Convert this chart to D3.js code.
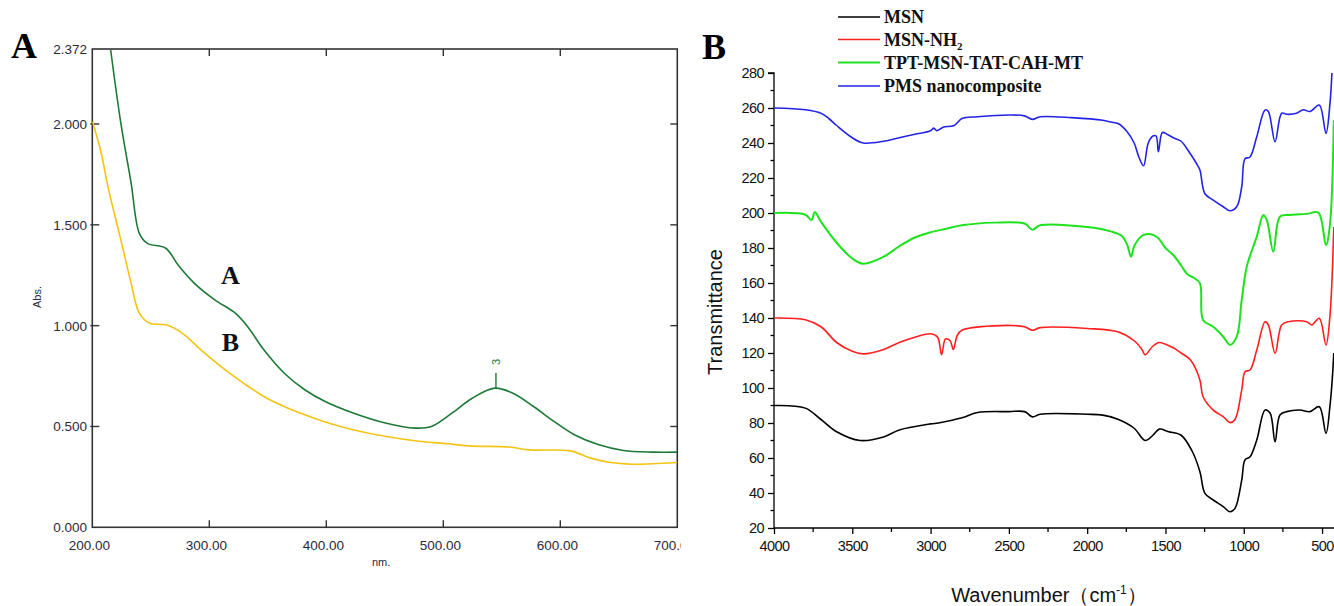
<!DOCTYPE html>
<html>
<head>
<meta charset="utf-8">
<script src="https://cdn.jsdelivr.net/npm/d3@7"></script>
<style>
  html, body { margin: 0; padding: 0; background: #fff; }
  svg { display: block; }
</style>
</head>
<body>
<svg id="chart" width="1334" height="606"></svg>
<script>
// ---------------- Panel A data (UV-Vis) ----------------
const uvNmA  = [215.7, 224.4, 233.2, 240.2, 247.1, 262.8, 273.3, 287.3, 304.7, 322.2, 332.7, 346.6, 364.1, 381.6, 399, 423.5, 451.4, 475.8, 489.8, 507.3, 524.7, 543.9, 559.6, 577.1, 594.6, 612, 633, 653.9, 678.4, 700];
const uvAbsA = [2.367, 2.004, 1.706, 1.458, 1.408, 1.384, 1.301, 1.21, 1.128, 1.062, 0.996, 0.88, 0.764, 0.682, 0.624, 0.566, 0.516, 0.492, 0.5, 0.566, 0.64, 0.69, 0.665, 0.599, 0.525, 0.459, 0.409, 0.381, 0.373, 0.373];
const uvNmB  = [200, 207, 214, 224.4, 233.2, 240.2, 248.9, 262.8, 276.8, 294.3, 311.7, 329.2, 346.6, 364.1, 381.6, 402.5, 423.5, 451.4, 475.8, 503.8, 521.2, 556.1, 573.6, 608.5, 626, 643.4, 660.9, 678.4, 700];
const uvAbsB = [2.012, 1.871, 1.673, 1.425, 1.21, 1.062, 1.012, 1.004, 0.963, 0.872, 0.789, 0.715, 0.649, 0.599, 0.558, 0.516, 0.483, 0.45, 0.429, 0.414, 0.404, 0.398, 0.384, 0.379, 0.343, 0.321, 0.313, 0.315, 0.321];
const uvXTicks = [200, 300, 400, 500, 600, 700];
const uvXTickLabels = ["200.00", "300.00", "400.00", "500.00", "600.00", "700.00"];
const uvYTicks = [0, 0.5, 1.0, 1.5, 2.0, 2.372];
const uvYTickLabels = ["0.000", "0.500", "1.000", "1.500", "2.000", "2.372"];
const uvPeakNm = 545, uvPeakAbs = 0.69, uvPeakLabel = "3";

// ---------------- Panel B data (FTIR) ----------------
const irLegend = ["MSN", "MSN-NH2", "TPT-MSN-TAT-CAH-MT", "PMS nanocomposite"];
const irWaveMSN = [4000, 3800, 3700, 3600, 3450, 3300, 3200, 3000, 2950, 2800, 2700, 2500, 2400, 2350, 2300, 2000, 1900, 1800, 1700, 1630, 1580, 1540, 1480, 1400, 1330, 1280, 1248, 1195, 1131, 1088, 1056, 1013, 992, 960, 917, 864, 832, 800, 769, 726, 641, 577, 518, 475, 450, 425];
const irTMSN    = [90, 88.5, 82, 75, 70, 72, 76, 79.5, 80, 83, 86, 86.5, 86.5, 83.5, 85, 85, 84.5, 82, 77, 70, 73, 76.5, 75, 73, 64, 52.2, 39.8, 36, 32.2, 29.3, 31.2, 47.4, 58.9, 60.7, 70.3, 87.4, 85.7, 69.3, 84.6, 86.5, 87.4, 86.5, 89.3, 74.1, 89.3, 120];
const irWaveNH2 = [4000, 3800, 3700, 3600, 3500, 3430, 3300, 3200, 3100, 3000, 2955, 2930, 2905, 2875, 2855, 2830, 2800, 2600, 2400, 2350, 2300, 2000, 1800, 1700, 1650, 1630, 1580, 1540, 1500, 1450, 1400, 1340, 1280, 1260, 1195, 1131, 1088, 1056, 1013, 992, 960, 917, 864, 843, 800, 758, 715, 598, 566, 518, 475, 450, 425];
const irTNH2    = [140, 139, 135, 126, 121, 119.5, 122, 126, 129, 131, 129, 119, 128, 127, 122, 130, 133, 135.5, 135, 133, 134.5, 134, 132, 127, 122, 119, 124, 126, 125, 123, 120, 116, 104.6, 95, 87.4, 83.6, 80.2, 82, 98.9, 109.3, 110.3, 121.7, 137.9, 136, 119.8, 136, 137.9, 137.9, 136, 139.8, 124.6, 140.8, 192];
const irWaveTPT = [4000, 3800, 3760, 3740, 3700, 3600, 3500, 3430, 3300, 3200, 3100, 3000, 2900, 2800, 2600, 2400, 2350, 2300, 2000, 1850, 1780, 1745, 1720, 1700, 1650, 1600, 1550, 1500, 1450, 1400, 1360, 1320, 1280, 1260, 1195, 1131, 1088, 1045, 1013, 981, 917, 875, 853, 811, 769, 705, 598, 524, 475, 450, 425];
const irTTPT    = [200, 199, 196, 200.5, 195, 183, 174, 171, 175, 181, 186, 189, 191, 193, 194.5, 194, 190.5, 193, 192, 189.5, 187, 182, 175, 181, 187, 188, 186, 180, 176, 170, 165, 163, 159.8, 138.9, 135, 129.3, 124.6, 129.3, 150.3, 169.3, 186.5, 198.9, 196, 177.9, 197.9, 198.9, 199.5, 200.2, 181.7, 193, 253];
const irWavePMS = [4000, 3800, 3700, 3650, 3600, 3500, 3430, 3300, 3200, 3100, 3000, 2980, 2960, 2920, 2850, 2800, 2700, 2500, 2400, 2350, 2300, 2100, 1900, 1850, 1800, 1750, 1700, 1670, 1640, 1610, 1580, 1560, 1545, 1520, 1490, 1450, 1400, 1350, 1300, 1280, 1248, 1195, 1131, 1088, 1045, 1013, 992, 960, 917, 864, 843, 800, 758, 726, 662, 620, 577, 518, 475, 450, 437];
const irTPMS    = [260, 259, 257, 254, 250, 243, 240, 241, 243, 245, 247, 248.5, 247, 249, 250, 254, 255, 256, 255.5, 253.5, 255, 254.5, 253, 252, 251, 247, 240, 232, 227, 240, 244, 244, 235, 246, 245, 243, 241, 235, 228, 224.6, 211, 207.4, 203.6, 201.3, 203.6, 215, 231, 232, 243.6, 258.9, 258, 240.7, 257, 256.4, 257, 259, 258, 261.7, 245.5, 262, 280];
const irXTicks = [4000, 3500, 3000, 2500, 2000, 1500, 1000, 500];
const irXMinor = [3750, 3250, 2750, 2250, 1750, 1250, 750];
const irYTicks = [20, 40, 60, 80, 100, 120, 140, 160, 180, 200, 220, 240, 260, 280];
const irYMinor = [30, 50, 70, 90, 110, 130, 150, 170, 190, 210, 230, 250, 270];

// ---------------- Drawing ----------------
const svg = d3.select("#chart");
const sans = "'Liberation Sans', Arial, sans-serif";
const serif = "'Liberation Serif', 'Times New Roman', serif";

// ===== Panel A =====
const ax = d3.scaleLinear().domain([200, 700]).range([92.3, 677.3]);
const ay = d3.scaleLinear().domain([0, 2.372]).range([527.3, 49]);
const gA = svg.append("g");

svg.append("defs").append("clipPath").attr("id", "clipA")
  .append("rect").attr("x", ax(200)).attr("y", ay(2.372))
  .attr("width", ax(700) - ax(200)).attr("height", ay(0) - ay(2.372));
svg.select("defs").append("clipPath").attr("id", "clipLabels")
  .append("rect").attr("x", 0).attr("y", 0).attr("width", 681).attr("height", 606);

// frame
gA.append("rect").attr("x", ax(200)).attr("y", ay(2.372))
  .attr("width", ax(700) - ax(200)).attr("height", ay(0) - ay(2.372))
  .attr("fill", "none").attr("stroke", "#333").attr("stroke-width", 1.6);

// ticks (inward)
const xInner = uvXTicks.filter(d => d > 200 && d < 700);
gA.selectAll(".txb").data(xInner).join("line")
  .attr("x1", d => ax(d)).attr("x2", d => ax(d))
  .attr("y1", ay(0)).attr("y2", ay(0) - 7).attr("stroke", "#333").attr("stroke-width", 1.4);
gA.selectAll(".txt").data(xInner).join("line")
  .attr("x1", d => ax(d)).attr("x2", d => ax(d))
  .attr("y1", ay(2.372)).attr("y2", ay(2.372) + 7).attr("stroke", "#333").attr("stroke-width", 1.4);
const yInner = uvYTicks.filter(d => d > 0 && d < 2.372);
gA.selectAll(".tyl").data(yInner).join("line")
  .attr("x1", ax(200) - 2).attr("x2", ax(200) + 7)
  .attr("y1", d => ay(d)).attr("y2", d => ay(d)).attr("stroke", "#333").attr("stroke-width", 1.4);
gA.selectAll(".tyr").data(yInner).join("line")
  .attr("x1", ax(700) - 7).attr("x2", ax(700))
  .attr("y1", d => ay(d)).attr("y2", d => ay(d)).attr("stroke", "#333").attr("stroke-width", 1.4);

// tick labels
gA.append("g").attr("clip-path", "url(#clipLabels)")
  .selectAll("text").data(uvXTicks).join("text")
  .attr("x", d => ax(d) - 3).attr("y", 550)
  .attr("text-anchor", "middle").attr("font-family", sans).attr("font-size", 13.5)
  .attr("fill", "#2a2a3a").text((d, i) => uvXTickLabels[i]);
gA.selectAll(".ylab").data(uvYTicks).join("text")
  .attr("x", 87).attr("y", d => ay(d) + 5)
  .attr("text-anchor", "end").attr("font-family", sans).attr("font-size", 13.5)
  .attr("fill", "#2a2a3a").text((d, i) => uvYTickLabels[i]);

gA.append("text").attr("x", 372).attr("y", 566).attr("font-family", sans)
  .attr("font-size", 11).attr("fill", "#2a2a3a").text("nm.");
gA.append("text").attr("transform", "translate(41,297) rotate(-90)")
  .attr("text-anchor", "middle").attr("font-family", sans).attr("font-size", 11)
  .attr("fill", "#2a2a3a").text("Abs.");

// curves
const lineA = d3.line().x(d => ax(d[0])).y(d => ay(d[1])).curve(d3.curveCatmullRom.alpha(0.5));
const plotA = gA.append("g").attr("clip-path", "url(#clipA)");
plotA.append("path").datum(uvNmB.map((d, i) => [d, uvAbsB[i]]))
  .attr("d", lineA).attr("fill", "none").attr("stroke", "#f4c414").attr("stroke-width", 1.6);
plotA.append("path").datum(uvNmA.map((d, i) => [d, uvAbsA[i]]))
  .attr("d", lineA).attr("fill", "none").attr("stroke", "#1d7a36").attr("stroke-width", 1.6);

// peak marker
gA.append("line").attr("x1", ax(uvPeakNm)).attr("x2", ax(uvPeakNm))
  .attr("y1", ay(uvPeakAbs + 0.075)).attr("y2", ay(uvPeakAbs))
  .attr("stroke", "#1d7a36").attr("stroke-width", 1.4);
gA.append("text")
  .attr("transform", `translate(${ax(uvPeakNm) + 4},${ay(uvPeakAbs + 0.13)}) rotate(-90)`)
  .attr("text-anchor", "middle").attr("font-family", sans).attr("font-size", 11)
  .attr("fill", "#1d7a36").text(uvPeakLabel);

// in-plot series labels
gA.append("text").attr("x", ax(318)).attr("y", ay(1.252) + 9)
  .attr("text-anchor", "middle").attr("font-family", serif).attr("font-weight", "bold")
  .attr("font-size", 26).attr("fill", "#111").text("A");
gA.append("text").attr("x", ax(318)).attr("y", ay(0.921) + 9)
  .attr("text-anchor", "middle").attr("font-family", serif).attr("font-weight", "bold")
  .attr("font-size", 26).attr("fill", "#111").text("B");

// panel letter
svg.append("text").attr("x", 11).attr("y", 58).attr("font-family", serif)
  .attr("font-weight", "bold").attr("font-size", 36).attr("fill", "#000").text("A");

// ===== Panel B =====
const bx = d3.scaleLinear().domain([4000, 425]).range([774, 1333.8]);
const by = d3.scaleLinear().domain([20, 280]).range([528, 73]);
const gB = svg.append("g");

// y axis
const yAxisB = d3.axisLeft(by).tickValues(irYTicks).tickSize(6).tickPadding(4);
const gy = gB.append("g").attr("transform", `translate(${bx(4000)},0)`).call(yAxisB);
gy.select(".domain").attr("stroke", "#000").attr("stroke-width", 1.3).attr("d", `M-6,${by(280)}H0V${by(20)}`);
gy.selectAll(".tick line").attr("stroke", "#000").attr("stroke-width", 1.3);
gy.selectAll(".tick text").attr("font-family", sans).attr("font-size", 14.5)
  .attr("letter-spacing", -0.6).attr("fill", "#111");
gB.append("g").selectAll("line").data(irYMinor).join("line")
  .attr("x1", bx(4000) - 3.5).attr("x2", bx(4000))
  .attr("y1", d => by(d)).attr("y2", d => by(d)).attr("stroke", "#000").attr("stroke-width", 1.3);

// x axis
const xAxisB = d3.axisBottom(bx).tickValues(irXTicks).tickSize(6).tickPadding(7).tickFormat(d3.format("d"));
const gx = gB.append("g").attr("transform", `translate(0,${by(20)})`).call(xAxisB);
gx.select(".domain").attr("stroke", "#000").attr("stroke-width", 1.3).attr("d", `M${bx(4000)},0H1334`);
gx.selectAll(".tick line").attr("stroke", "#000").attr("stroke-width", 1.3);
gx.selectAll(".tick text").attr("font-family", sans).attr("font-size", 14.5)
  .attr("letter-spacing", -0.6).attr("fill", "#111");
gB.append("g").selectAll("line").data(irXMinor).join("line")
  .attr("x1", d => bx(d)).attr("x2", d => bx(d))
  .attr("y1", by(20)).attr("y2", by(20) + 4).attr("stroke", "#000").attr("stroke-width", 1.3);

// axis titles
gB.append("text").attr("transform", `translate(722,312) rotate(-90)`)
  .attr("text-anchor", "middle").attr("font-family", sans).attr("font-size", 20)
  .attr("fill", "#111").text("Transmittance");
const xt = gB.append("text").attr("x", 1049).attr("y", 602).attr("text-anchor", "middle")
  .attr("font-family", sans).attr("font-size", 20).attr("fill", "#111");
xt.append("tspan").text("Wavenumber（cm");
xt.append("tspan").attr("dy", -8).attr("font-size", 12).text("-1");
xt.append("tspan").attr("dy", 8).text("）");

// curves
const irColors = ["#000000", "#ff1f1f", "#1ee21e", "#2323e8"];
const irSeries = [
  irWaveMSN.map((d, i) => [d, irTMSN[i]]),
  irWaveNH2.map((d, i) => [d, irTNH2[i]]),
  irWaveTPT.map((d, i) => [d, irTTPT[i]]),
  irWavePMS.map((d, i) => [d, irTPMS[i]])
];
const lineB = d3.line().x(d => bx(d[0])).y(d => by(d[1])).curve(d3.curveCatmullRom.alpha(0.5));
gB.selectAll(".ir").data(irSeries).join("path")
  .attr("d", lineB).attr("fill", "none")
  .attr("stroke", (d, i) => irColors[i]).attr("stroke-width", (d, i) => i === 2 ? 2 : 1.6)
  .attr("stroke-linejoin", "round");

// legend
const legY = [17, 39.5, 62.5, 86];
const leg = gB.append("g");
irLegend.forEach((name, i) => {
  leg.append("line").attr("x1", 838).attr("x2", 880).attr("y1", legY[i]).attr("y2", legY[i])
    .attr("stroke", irColors[i]).attr("stroke-width", i === 2 ? 2.2 : 1.6);
  const t = leg.append("text").attr("x", 884).attr("y", legY[i] + 6)
    .attr("font-family", serif).attr("font-weight", "bold").attr("font-size", 18).attr("fill", "#111");
  if (name === "MSN-NH2") {
    t.append("tspan").text("MSN-NH");
    t.append("tspan").attr("dy", 4).attr("font-size", 11).text("2");
  } else {
    t.text(name);
  }
});

// panel letter
svg.append("text").attr("x", 702).attr("y", 59).attr("font-family", serif)
  .attr("font-weight", "bold").attr("font-size", 36).attr("fill", "#000").text("B");
</script>
</body>
</html>
